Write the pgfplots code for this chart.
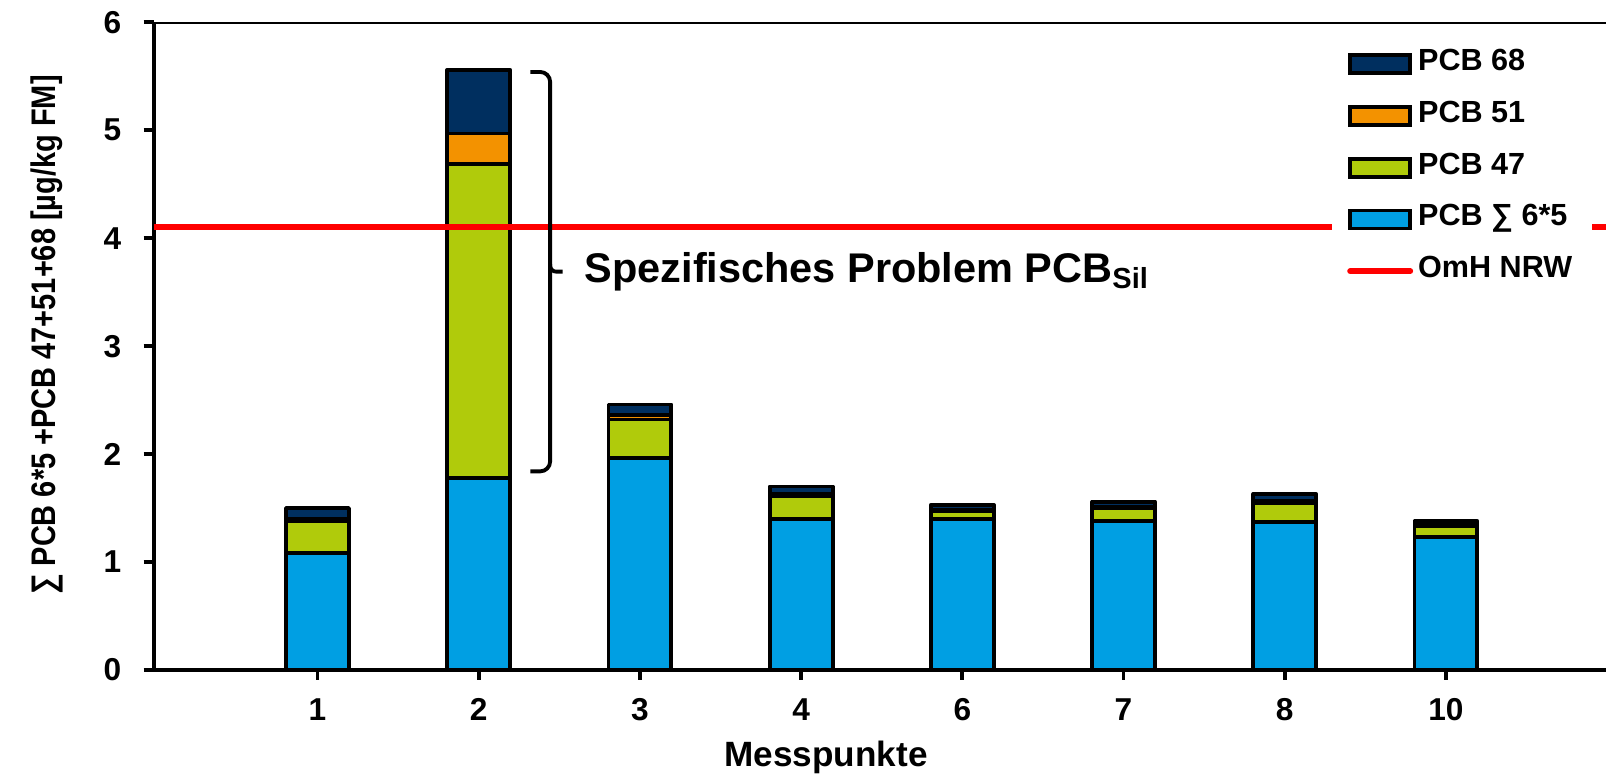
\documentclass[border=0pt]{standalone}
\usepackage{fontspec}
\setmainfont{Liberation Sans}
\newfontfamily\narrowfont{Liberation Sans}[FakeStretch=0.85]
\usepackage{pgfplots}
\usepackage{pgfplotstable}
\pgfplotsset{compat=1.18}
\usetikzlibrary{calc}
\definecolor{cblue}{RGB}{0,159,227}
\definecolor{cgreen}{RGB}{176,203,11}
\definecolor{corange}{RGB}{243,146,0}
\definecolor{cnavy}{RGB}{0,47,95}
\definecolor{cred}{RGB}{255,0,0}

\pgfplotsset{
  boxlegend/.style={legend image code/.code={\draw[##1] (0mm,-0.9mm) rectangle (6mm,0.9mm);}},
  linelegend/.style={legend image code/.code={\draw[##1] (0mm,0mm) -- (6mm,0mm);}},
  common/.style={
    scale only axis, width=145.24mm, height=64.77mm,
    xmin=-1.017, xmax=7.993, ymin=0, ymax=6,
  },
}

\pgfplotstableread{
x b g o n
0 1.08 0.30 0.02 0.10
1 1.78 2.91 0.28 0.59
2 1.96 0.36 0.04 0.10
3 1.40 0.21 0.02 0.07
4 1.40 0.07 0.01 0.05
5 1.38 0.12 0.01 0.05
6 1.37 0.18 0.02 0.06
7 1.23 0.10 0.01 0.04
}\data

\pgfplotstableread{
x y
-1.017 4.1
7.993 4.1
}\omh

\begin{document}
\begin{tikzpicture}
\begin{axis}[
  common,
  ybar stacked, bar width=0.39,
  axis x line=bottom, axis y line=left,
  axis line style={-, line width=1.1pt, black},
  xtick={0,...,7}, xticklabels={1,2,3,4,6,7,8,10},
  ytick={0,...,6},
  tick align=outside, major tick length=1mm,
  tick style={line width=1.1pt, black},
  /pgf/number format/assume math mode=true,
  tick label style={font=\fontsize{9}{11}\selectfont\bfseries},
  xticklabel style={yshift=-0.6mm},
  yticklabel style={xshift=-1mm},
  xlabel={Messpunkte},
  ylabel={∑ PCB 6*5 +PCB 47+51+68 [µg/kg FM]},
  every axis x label/.style={at={(axis description cs:0.463,0)}, anchor=center, yshift=-8.75mm, font=\fontsize{10}{12}\selectfont\bfseries},
  every axis y label/.style={at={(axis description cs:-0.0734,0.517)}, rotate=90, anchor=center, font=\narrowfont\fontsize{9.7}{11}\selectfont\bfseries},
  every axis plot/.append style={draw=black, line width=1.1pt, line join=round},
]
\addplot[fill=cblue] table[x=x, y=b] {\data};
\addplot[fill=cgreen] table[x=x, y=g] {\data};
\addplot[fill=corange] table[x=x, y=o] {\data};
\addplot[fill=cnavy] table[x=x, y=n] {\data};
\draw[line width=1.1pt, black] (rel axis cs:0,1) -- (rel axis cs:1,1);
\coordinate (SW) at (rel axis cs:0,0);
\coordinate (NE) at (rel axis cs:1,1);
\end{axis}
\begin{axis}[
  common, hide axis,
  legend style={draw=none, fill=white, at={(rel axis cs:0.811,0.977)}, anchor=north west,
    inner xsep=1.5mm, inner ysep=1mm, row sep=1.87mm,
    nodes={inner sep=0.5mm, text height=1.8mm, text depth=0.5mm, font=\fontsize{8.7}{10}\selectfont\bfseries}},
  legend cell align=left,
]
\addplot[cred, line width=1.7pt, forget plot] table[x=x, y=y] {\omh};
\addlegendimage{boxlegend, fill=cnavy, draw=black, line width=1.1pt}
\addlegendentry{PCB 68}
\addlegendimage{boxlegend, fill=corange, draw=black, line width=1.1pt}
\addlegendentry{PCB 51}
\addlegendimage{boxlegend, fill=cgreen, draw=black, line width=1.1pt}
\addlegendentry{PCB 47}
\addlegendimage{boxlegend, fill=cblue, draw=black, line width=1.1pt}
\addlegendentry{PCB ∑ 6*5}
\addlegendimage{linelegend, cred, line width=1.7pt, line cap=round}
\addlegendentry{OmH NRW}
\draw[line width=1.1pt, black, rounded corners=1mm]
  (axis cs:1.32,5.54) -- (axis cs:1.443,5.54) -- (axis cs:1.443,3.69) -- (axis cs:1.443,1.84) -- (axis cs:1.32,1.84);
\draw[line width=1.1pt, black, rounded corners=0.6mm]
  (axis cs:1.443,3.76) -- (axis cs:1.443,3.69) -- (axis cs:1.52,3.69);
\node[anchor=west, font=\fontsize{11.8}{14}\selectfont\bfseries, inner sep=0pt] at (axis cs:1.653,3.69) {Spezifisches Problem PCB\textsubscript{Sil}};
\end{axis}
\pgfresetboundingbox
\path[use as bounding box] ($(SW)+(-15.36mm,-10.4mm)$) rectangle ($(NE)+(0,2.23mm)$);
\end{tikzpicture}
\end{document}
